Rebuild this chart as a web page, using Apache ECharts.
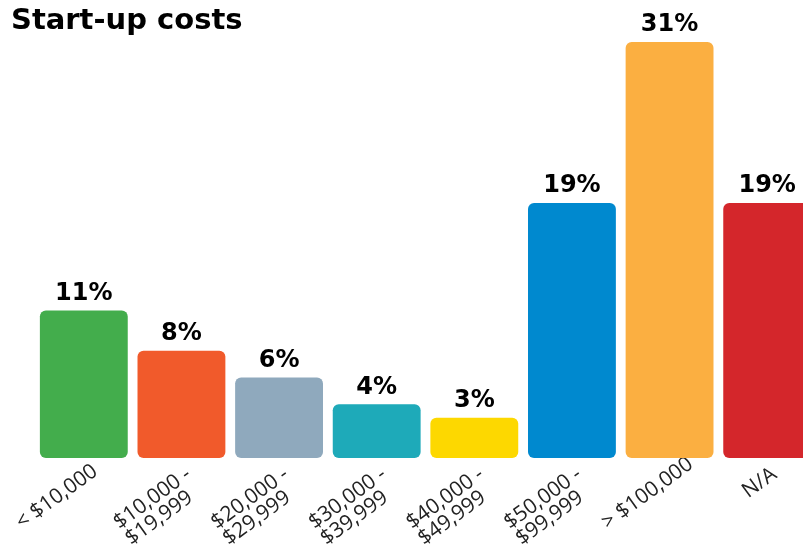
<!DOCTYPE html>
<html><head><meta charset="utf-8">
<script src="https://cdn.jsdelivr.net/npm/echarts@6/dist/echarts.min.js"></script>
<style>html,body{margin:0;padding:0;background:#fff}#c{width:803px;height:547px}</style>
</head><body><div id="c"></div>
<script>
var titleText = 'Start-up costs';
var categories = ['< $10,000', '$10,000 -\n$19,999', '$20,000 -\n$29,999', '$30,000 -\n$39,999', '$40,000 -\n$49,999', '$50,000 -\n$99,999', '> $100,000', 'N/A'];
var values = [11, 8, 6, 4, 3, 19, 31, 19];
var colors = ['#43AD4C', '#F15A2B', '#8FA9BD', '#1EAAB9', '#FDD800', '#0089CF', '#FBAF41', '#D4262B'];

var chart = echarts.init(document.getElementById('c'));
chart.setOption({
  animation: false,
  title: {text: titleText, left: 6, top: 2, textStyle: {fontFamily: 'DejaVu Sans', fontWeight: 'bold', fontSize: 29, color: '#000'}},
  grid: {left: 35, width: 781, top: 42, bottom: 89, outerBoundsMode: 'none', containLabel: false},
  xAxis: {
    type: 'category', data: categories,
    axisLine: {show: false}, axisTick: {show: false},
    axisLabel: {
      interval: 0, rotate: 36, margin: 7, align: 'right', verticalAlign: 'top',
      padding: [0, -20, 0, 0],
      fontFamily: 'Open Sans', fontSize: 21, color: '#222', lineHeight: 20,
      formatter: function (v) {
        var style = v === 'N/A' ? 'n' : 'm';
        return v.split('\n').map(function (p) { return '{' + style + '|' + p + '}'; }).join('\n');
      },
      rich: {
        m: {width: 108, align: 'left', fontFamily: 'Open Sans', fontSize: 21, color: '#222', lineHeight: 20},
        n: {width: 55, align: 'left', fontFamily: 'Open Sans', fontSize: 21, color: '#222', lineHeight: 20}
      }
    }
  },
  yAxis: {type: 'value', min: 0, max: 31, show: false, splitLine: {show: false}},
  series: [{
    type: 'bar', barCategoryGap: '10%',
    data: values.map(function (v, i) { return {value: v, itemStyle: {color: colors[i]}}; }),
    itemStyle: {borderRadius: 6},
    label: {show: true, position: 'top', distance: 5, formatter: '{c}%', fontFamily: 'DejaVu Sans', fontWeight: 'bold', fontSize: 24, color: '#000'}
  }]
});
</script></body></html>
